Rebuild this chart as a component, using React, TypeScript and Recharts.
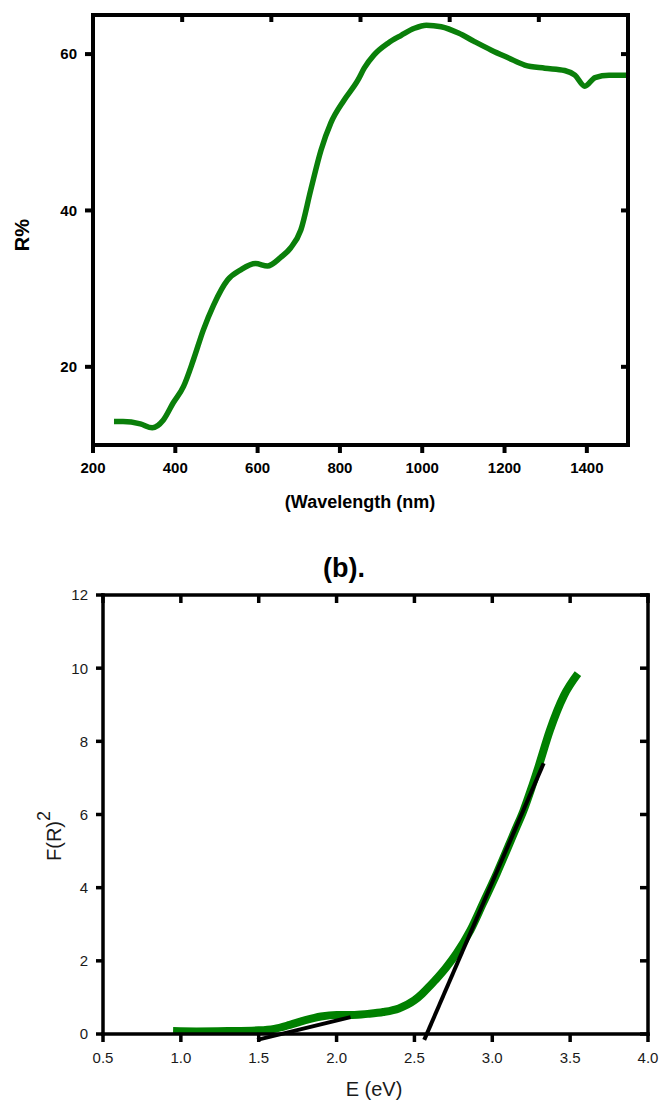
import { LineChart, Line, XAxis, YAxis, ReferenceLine } from 'recharts';

// (a) reflectance spectrum
const wavelength = [251, 273, 315, 344, 371, 395, 420, 444, 468, 493, 527, 559, 595, 624, 656, 680, 705, 729, 754, 778, 810, 844, 859, 883, 917, 949, 981, 1010, 1046, 1088, 1127, 1168, 1210, 1249, 1298, 1346, 1371, 1395, 1420, 1454, 1500];
const reflectance = [13.0, 13.0, 12.7, 12.2, 13.2, 15.4, 17.5, 20.9, 24.7, 27.9, 31.1, 32.4, 33.2, 32.9, 34.0, 35.2, 37.5, 42.6, 47.7, 51.2, 54.1, 56.7, 58.2, 59.9, 61.4, 62.4, 63.3, 63.7, 63.5, 62.7, 61.6, 60.5, 59.5, 58.6, 58.2, 57.9, 57.3, 55.9, 57.0, 57.3, 57.3];
const wlTicks = [200, 400, 600, 800, 1000, 1200, 1400];
// the top frame carries its own, unlabelled tick spacing (six divisions)
const wlTopTicks = [416.7, 633.3, 850, 1066.7, 1283.3];
const rTicks = [20, 40, 60];

// (b) Kubelka-Munk plot
const energy = [0.95, 1.1, 1.3, 1.5, 1.6, 1.7, 1.8, 1.9, 2.0, 2.1, 2.2, 2.3, 2.4, 2.5, 2.55, 2.6, 2.65, 2.7, 2.77, 2.86, 2.94, 3.03, 3.15, 3.2, 3.25, 3.3, 3.37, 3.46, 3.55];
const fr2 = [0.08, 0.07, 0.08, 0.1, 0.14, 0.25, 0.38, 0.48, 0.52, 0.52, 0.55, 0.6, 0.7, 0.92, 1.1, 1.32, 1.55, 1.8, 2.2, 2.84, 3.57, 4.4, 5.6, 6.1, 6.7, 7.35, 8.3, 9.25, 9.85];
const eTicks = [0.5, 1.0, 1.5, 2.0, 2.5, 3.0, 3.5, 4.0];
const fTicks = [0, 2, 4, 6, 8, 10, 12];
const fitLow = [{ x: 1.49, y: -0.16 }, { x: 2.09, y: 0.46 }];
const fitEdge = [{ x: 2.563, y: -0.16 }, { x: 3.33, y: 7.4 }];

const spectrum = wavelength.map((wl, i) => ({ wl, r: reflectance[i] }));
const km = energy.map((e, i) => ({ e, f: fr2[i] }));

const FONT = '"Liberation Sans", Arial, sans-serif';

type TickStyle = { size: number; margin: number; width: number; font?: any; fmt?: (v: number) => string };

// tick mark + optional label for horizontal axes
const xTick = (s: TickStyle) => (p: any) => (
    <g>
        <line x1={p.x} x2={p.x} y1={p.y - s.margin - s.size} y2={p.y - s.margin} stroke="#000" strokeWidth={s.width} />
        {s.font && (
            <text x={p.x} y={p.y} dy="0.75em" textAnchor="middle" {...s.font}>
                {s.fmt ? s.fmt(p.payload.value) : p.payload.value}
            </text>
        )}
    </g>
);

// tick mark + optional label for vertical axes
const yTick = (s: TickStyle) => (p: any) => (
    <g>
        <line y1={p.y} y2={p.y} x1={p.x + s.margin} x2={p.x + s.margin + s.size} stroke="#000" strokeWidth={s.width} />
        {s.font && (
            <text x={p.x} y={p.y} dy="0.36em" textAnchor="end" {...s.font}>
                {p.payload.value}
            </text>
        )}
    </g>
);

export default function App() {
    const axA = { stroke: '#000', strokeWidth: 4, strokeLinecap: 'square' as const };
    const fontA = { fontFamily: FONT, fontSize: 15, fontWeight: 700, fill: '#000' };
    const axB = { stroke: '#000', strokeWidth: 3.5, strokeLinecap: 'square' as const };
    const fontB = { fontFamily: FONT, fontSize: 15, fill: '#1a1a1a' };

    return (
        <div style={{ position: 'absolute', left: 0, top: 0, width: 660, height: 1101, background: '#fff' }}>
            <div style={{ position: 'absolute', left: 0, top: 0 }}>
                <LineChart width={660} height={520} data={spectrum} margin={{ top: 15, right: 32, left: 33, bottom: 45 }}>
                    <XAxis dataKey="wl" type="number" domain={[200, 1500]} ticks={wlTicks} interval={0} height={30}
                        axisLine={axA} tickLine={false} tickSize={8} tickMargin={9}
                        tick={xTick({ size: 8, margin: 9, width: 4, font: fontA })} />
                    <XAxis xAxisId="top" dataKey="wl" orientation="top" type="number" domain={[200, 1500]} ticks={wlTopTicks} interval={0} allowDataOverflow
                        mirror axisLine={axA} tickLine={false} tickSize={7} tickMargin={0}
                        tick={xTick({ size: 7, margin: 0, width: 4 })} />
                    <YAxis type="number" domain={[10, 65]} ticks={rTicks} interval={0} width={60}
                        axisLine={axA} tickLine={false} tickSize={8} tickMargin={8}
                        tick={yTick({ size: 8, margin: 8, width: 4, font: fontA })} />
                    <YAxis yAxisId="right" orientation="right" type="number" domain={[10, 65]} ticks={rTicks} interval={0} allowDataOverflow
                        mirror axisLine={axA} tickLine={false} tickSize={7} tickMargin={0}
                        tick={yTick({ size: 7, margin: 0, width: 4 })} />
                    <Line dataKey="r" type="monotone" stroke="#0a7f0a" strokeWidth={5.5} dot={false} isAnimationActive={false} />
                </LineChart>
            </div>
            <div style={{ position: 'absolute', left: 0, top: 560 }}>
                <LineChart width={660} height={541} data={km} margin={{ top: 35, right: 12, left: 43, bottom: 37 }}>
                    <XAxis dataKey="e" type="number" domain={[0.5, 4.0]} ticks={eTicks} interval={0} height={30}
                        axisLine={axB} tickLine={false} tickSize={8} tickMargin={10}
                        tick={xTick({ size: 8, margin: 10, width: 3.5, font: fontB, fmt: (v) => v.toFixed(1) })} />
                    <XAxis xAxisId="top" dataKey="e" orientation="top" type="number" domain={[0.5, 4.0]} ticks={eTicks} interval={0} allowDataOverflow
                        mirror axisLine={axB} tickLine={false} tickSize={8} tickMargin={0}
                        tick={xTick({ size: 8, margin: 0, width: 3.5 })} />
                    <YAxis type="number" domain={[0, 12]} ticks={fTicks} interval={0} width={60} allowDataOverflow
                        axisLine={axB} tickLine={false} tickSize={7} tickMargin={8}
                        tick={yTick({ size: 7, margin: 8, width: 3.5, font: fontB })} />
                    <YAxis yAxisId="right" orientation="right" type="number" domain={[0, 12]} ticks={fTicks} interval={0} allowDataOverflow
                        mirror axisLine={axB} tickLine={false} tickSize={8} tickMargin={0}
                        tick={yTick({ size: 8, margin: 0, width: 3.5 })} />
                    <Line dataKey="f" type="monotone" stroke="#008000" strokeWidth={8} dot={false} isAnimationActive={false} />
                    <ReferenceLine segment={fitLow} stroke="#000" strokeWidth={4} ifOverflow="visible" />
                    <ReferenceLine segment={fitEdge} stroke="#000" strokeWidth={4} ifOverflow="visible" />
                </LineChart>
            </div>
            <svg width={660} height={1101} style={{ position: 'absolute', left: 0, top: 0, pointerEvents: 'none' }}>
                <text x={22} y={235} transform="rotate(-90 22 235)" textAnchor="middle" dominantBaseline="central"
                    fontFamily={FONT} fontSize={20} fontWeight={700}>R%</text>
                <text x={360} y={502} textAnchor="middle" dominantBaseline="central"
                    fontFamily={FONT} fontSize={18} fontWeight={700}>(Wavelength (nm)</text>
                <text x={344} y={568} textAnchor="middle" dominantBaseline="central"
                    fontFamily={FONT} fontSize={27} fontWeight={700}>(b).</text>
                <text x={54} y={861} transform="rotate(-90 54 861)" textAnchor="start" dominantBaseline="central"
                    fontFamily={FONT} fontSize={20} fill="#1a1a1a">F(R)<tspan dy={-10} fontSize={18}>2</tspan></text>
                <text x={374} y={1089} textAnchor="middle" dominantBaseline="central"
                    fontFamily={FONT} fontSize={20} fill="#1a1a1a">E (eV)</text>
            </svg>
        </div>
    );
}
